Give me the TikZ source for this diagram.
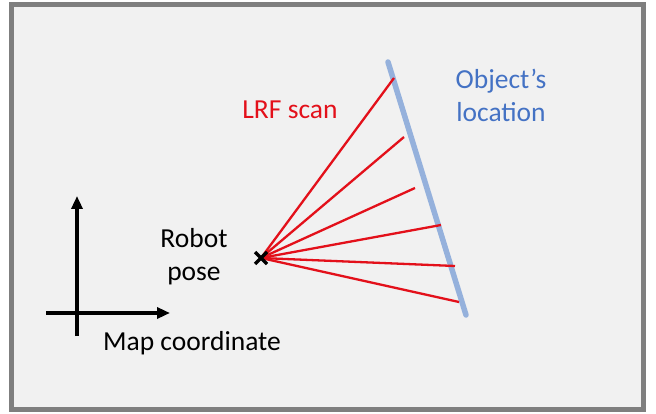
\documentclass[tikz,border=0pt]{standalone}
\usepackage{fontspec}
\setmainfont{Carlito}
\usetikzlibrary{arrows.meta}
\definecolor{panel}{HTML}{F1F1F1}
\definecolor{framegray}{HTML}{7F7F7F}
\definecolor{scanred}{HTML}{E3101A}
\definecolor{wallblue}{HTML}{95B1DC}
\definecolor{labelblue}{HTML}{4472C4}
\tikzset{
  lbl/.style={font=\fontsize{27.5}{33}\selectfont, align=center, inner sep=0pt},
  ray/.style={scanred, line width=2.3pt},
  axis/.style={line width=3.4pt, -{Triangle[length=13pt,width=11pt]}},
}
\begin{document}
\begin{tikzpicture}[x=1pt,y=-1pt]
  \useasboundingbox (0,0) rectangle (656,414);
  \fill[white] (0,0) rectangle (656,414);
  % panel with grey frame
  \draw[framegray, line width=5pt, fill=panel] (11.5,4.5) rectangle (643.5,409.5);

  % object's surface
  \coordinate (w1) at (388,62);
  \coordinate (w2) at (466,315);
  \draw[wallblue, line width=5.5pt, line cap=round] (w1) -- (w2);

  % robot pose and scan rays
  \coordinate (robot) at (261,258);
  \coordinate (h1) at (394,78);
  \coordinate (h2) at (404,137);
  \coordinate (h3) at (415,188);
  \coordinate (h4) at (441,225);
  \coordinate (h5) at (455,266);
  \coordinate (h6) at (459,302);
  \foreach \i in {1,...,6}
    \draw[ray] (robot) -- (h\i);
  \draw[line width=3.4pt] ([shift={(-6,-6)}]robot) -- ([shift={(6,6)}]robot)
                          ([shift={(-6,6)}]robot) -- ([shift={(6,-6)}]robot);

  % map coordinate frame
  \coordinate (ybot) at (77,336);
  \coordinate (ytop) at (77,196);
  \coordinate (xl) at (46,313);
  \coordinate (xr) at (170,313);
  \draw[axis] (ybot) -- (ytop);
  \draw[axis] (xl) -- (xr);

  % labels
  \node[lbl] (pose) at (194,257) {Robot\\pose};
  \node[lbl] (map) at (192,343) {Map coordinate};
  \node[lbl, text=scanred] (scan) at (290,110) {LRF scan};
  \node[lbl, text=labelblue] (obj) at (501,95) {Object’s\\location};
\end{tikzpicture}
\end{document}
